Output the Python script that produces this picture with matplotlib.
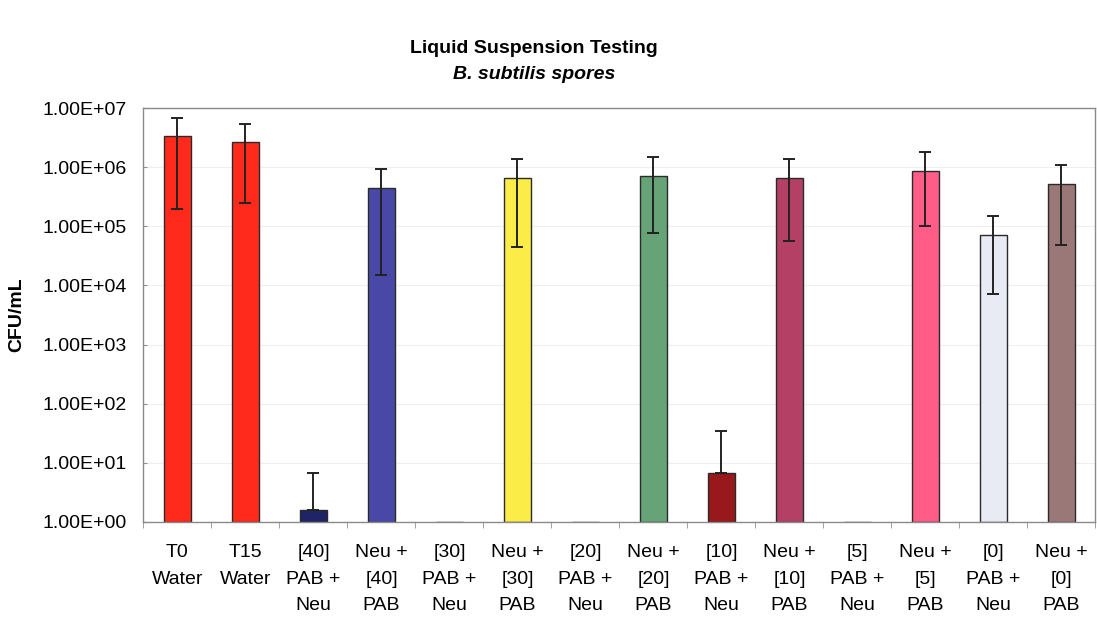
import numpy as np
import matplotlib
matplotlib.use('Agg')
from matplotlib import pyplot as plt
from matplotlib.ticker import FixedLocator, NullFormatter

plt.rcParams['font.family'] = ['Liberation Sans', 'DejaVu Sans']

# categories and values (CFU/mL)
labels = ['T0\nWater', 'T15\nWater', '[40]\nPAB +\nNeu', 'Neu +\n[40]\nPAB',
          '[30]\nPAB +\nNeu', 'Neu +\n[30]\nPAB', '[20]\nPAB +\nNeu', 'Neu +\n[20]\nPAB',
          '[10]\nPAB +\nNeu', 'Neu +\n[10]\nPAB', '[5]\nPAB +\nNeu', 'Neu +\n[5]\nPAB',
          '[0]\nPAB +\nNeu', 'Neu +\n[0]\nPAB']
means = [3.35e6, 2.7e6, 1.6, 4.5e5, 1.0, 6.5e5, 1.0, 7.0e5, 6.6, 6.5e5, 1.0, 8.8e5, 7.1e4, 5.2e5]
err_upper = [6.9e6, 5.5e6, 6.6, 9.4e5, 1.0, 1.37e6, 1.0, 1.48e6, 35, 1.37e6, 1.0, 1.85e6, 1.48e5, 1.08e6]
err_lower = [2.0e5, 2.5e5, 1.6, 1.5e4, 1.0, 4.5e4, 1.0, 7.6e4, 6.6, 5.6e4, 1.0, 1.0e5, 7.1e3, 4.8e4]
colors = ['#ff2a1c', '#ff2a1c', '#1e2466', '#4a48a6', '#cccccc', '#fbec48', '#cccccc', '#66a477',
          '#98181c', '#b54066', '#cccccc', '#ff5c88', '#e8eaf4', '#9a7878']
yticks = [1e0, 1e1, 1e2, 1e3, 1e4, 1e5, 1e6, 1e7]
ytick_labels = ['1.00E+00', '1.00E+01', '1.00E+02', '1.00E+03',
                '1.00E+04', '1.00E+05', '1.00E+06', '1.00E+07']

fig = plt.figure(figsize=(10.97, 6.18), dpi=100)
ax = fig.add_axes([0.1308, 0.1558, 0.8678, 0.669])

x = np.arange(len(labels))
means = np.array(means)
yerr = np.array([means - np.array(err_lower), np.array(err_upper) - means])

# bars start at the axis floor (1) so zero-count groups are flat
ax.bar(x, means - 1.0, width=0.4, bottom=1.0, color=colors, edgecolor='#2a2a2a', linewidth=1.0, zorder=2)
mask = yerr.sum(axis=0) > 0
ax.errorbar(x[mask], means[mask], yerr=yerr[:, mask], fmt='none', ecolor='#222222',
            elinewidth=1.4, capsize=4.5, capthick=1.4, zorder=3)

ax.set_yscale('log')
ax.set_ylim(1, 1e7)
ax.set_xlim(-0.5, len(labels) - 0.5)
ax.yaxis.set_major_locator(FixedLocator(yticks))
ax.set_yticklabels(ytick_labels)
ax.yaxis.set_minor_formatter(NullFormatter())
ax.yaxis.set_minor_locator(FixedLocator([]))
ax.grid(axis='y', color='#efefef', linewidth=0.8, zorder=0)

ax.set_xticks(x)
ax.set_xticklabels(labels, fontsize=14, linespacing=1.75)
ax.set_xticks(np.arange(len(labels) + 1) - 0.5, minor=True)
ax.tick_params(axis='x', which='major', length=0, pad=16)
ax.tick_params(axis='x', which='minor', length=4, color='#909090', direction='out')
ax.tick_params(axis='y', which='major', labelsize=14, length=3, color='#909090', direction='in', pad=12)

for s in ax.spines.values():
    s.set_color('#8a8a8a')
    s.set_linewidth(1.0)

ax.set_ylabel('CFU/mL', fontsize=14, fontweight='bold')
ax.yaxis.set_label_coords(-0.124, 0.5)

fig.text(0.487, 0.921, 'Liquid Suspension Testing', ha='center', va='center',
         fontsize=14, fontweight='bold')
fig.text(0.487, 0.879, 'B. subtilis spores', ha='center', va='center',
         fontsize=14, fontweight='bold', style='italic')

plt.savefig('out.png', dpi=100)
